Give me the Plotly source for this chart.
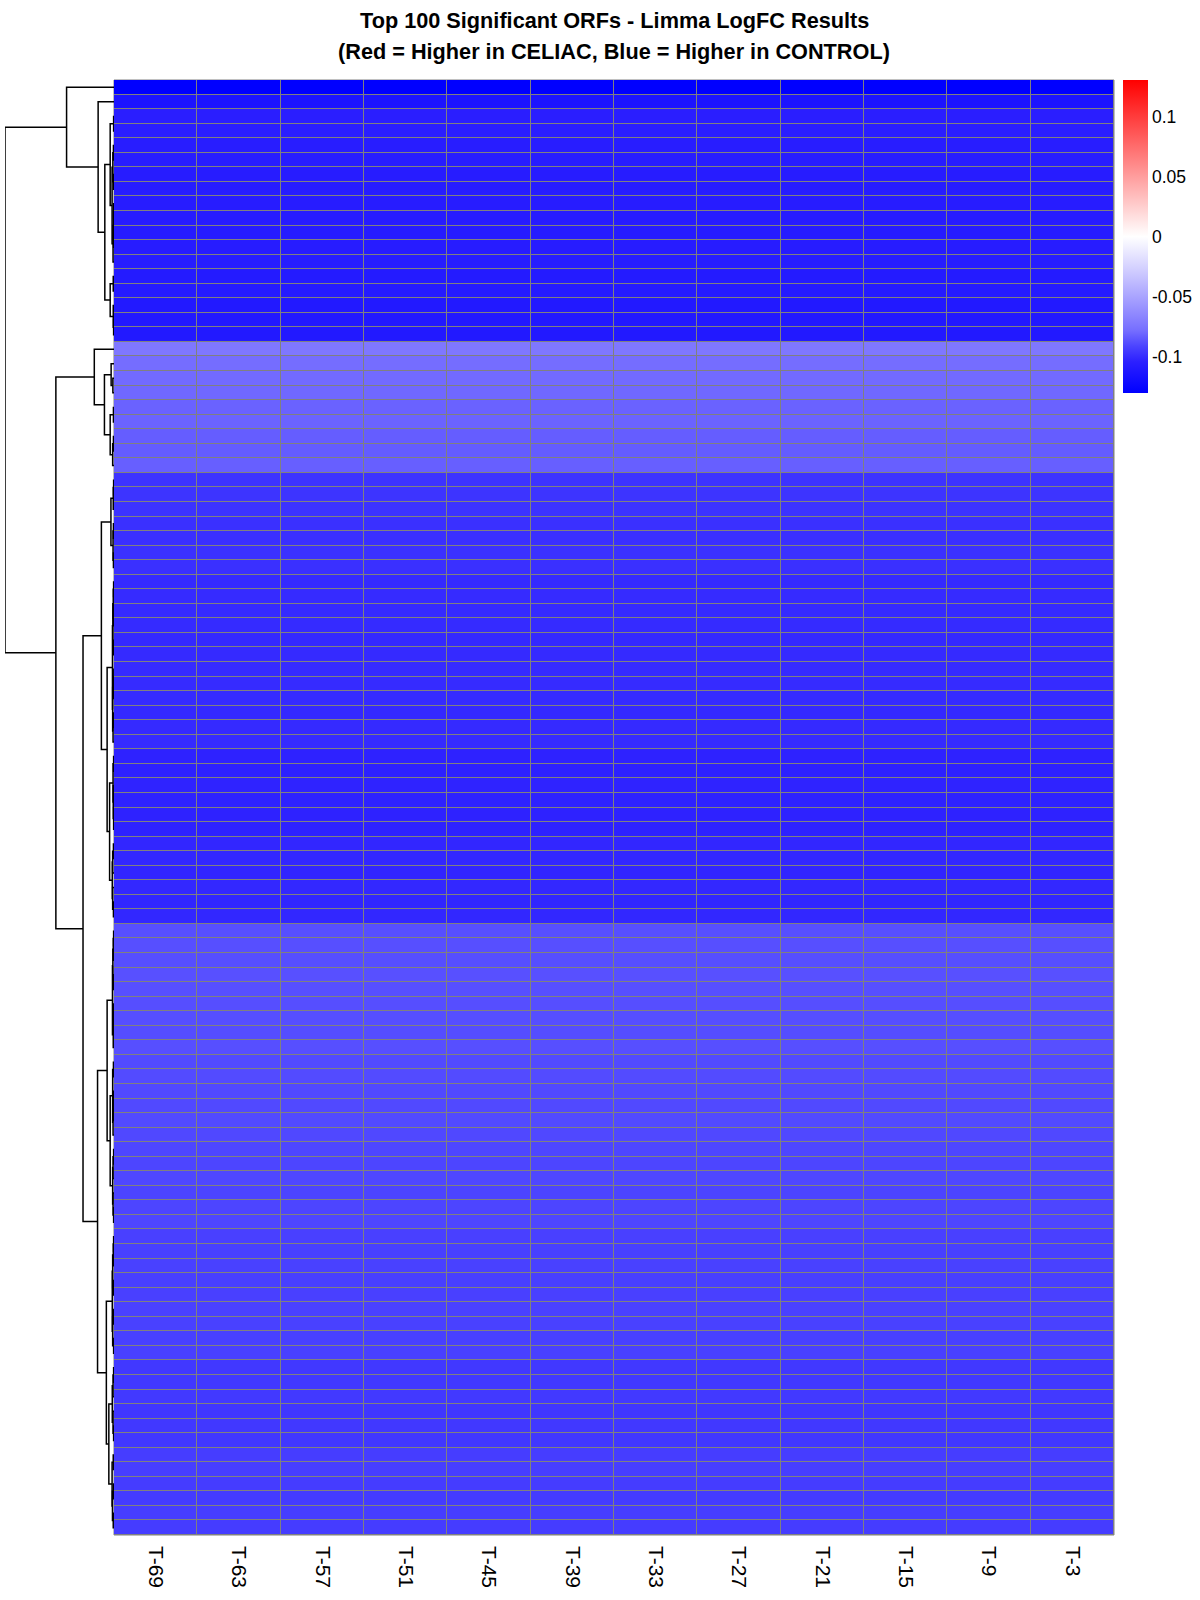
import numpy as np
import plotly.graph_objects as go

# ---------------- data ----------------
time_points = ["T-69", "T-63", "T-57", "T-51", "T-45", "T-39",
               "T-33", "T-27", "T-21", "T-15", "T-9", "T-3"]

# limma logFC per ORF (rows in displayed / clustered order, same value at every time point)
logfc_top = [-0.1304, -0.1139, -0.1058, -0.1056, -0.1066, -0.1069, -0.1072, -0.1070, -0.1075,
             -0.1073, -0.1076, -0.1074, -0.1071, -0.1088, -0.1084, -0.1100, -0.1104, -0.1102]
logfc_light = [-0.0734, -0.0787, -0.0796, -0.0802, -0.0820, -0.0817, -0.0834, -0.0837, -0.0830]
logfc_dark = [-0.0974, -0.0972, -0.0976, -0.0985, -0.0988, -0.0983, -0.0986,
              -0.1006, -0.1004, -0.1008, -0.1005, -0.1010, -0.1006, -0.1003, -0.1002, -0.1005,
              -0.1009, -0.1007, -0.1004,
              -0.1036, -0.1038, -0.1033, -0.1036, -0.1035, -0.1037,
              -0.1020, -0.1017, -0.1024, -0.1015, -0.1022, -0.1019]
logfc_low = [-0.0880, -0.0878, -0.0882, -0.0876, -0.0879, -0.0883, -0.0881, -0.0884, -0.0880,
             -0.0895, -0.0892, -0.0898, -0.0896, -0.0894, -0.0899,
             -0.0908, -0.0910, -0.0905, -0.0912, -0.0909, -0.0907,
             -0.0926, -0.0928, -0.0924, -0.0931, -0.0927, -0.0922, -0.0925, -0.0929, -0.0927,
             -0.0956, -0.0958, -0.0953, -0.0962, -0.0957, -0.0959,
             -0.0939, -0.0935, -0.0942, -0.0945, -0.0937, -0.0941]
logfc = logfc_top + logfc_light + logfc_dark + logfc_low

cbar_tickvals = [-0.1, -0.05, 0, 0.05, 0.1]
cbar_ticktext = ["-0.1", "-0.05", "0", "0.05", "0.1"]

title_line1 = "Top 100 Significant ORFs - Limma LogFC Results"
title_line2 = "(Red = Higher in CELIAC, Blue = Higher in CONTROL)"

# ---------------- matrix ----------------
n_rows = len(logfc)
row_ids = list(range(1, n_rows + 1))
Z = np.repeat(np.array(logfc)[:, None], len(time_points), axis=1)
zlim = float(np.abs(Z).max())

# ---------------- row dendrogram (complete linkage, euclidean, order kept) ----------------
D = np.sqrt(((Z[:, None, :] - Z[None, :, :]) ** 2).sum(-1))
clusters = [dict(m=[i], y=float(i + 1), h=0.0) for i in range(n_rows)]
tx, ty = [], []
while len(clusters) > 1:
    best = None
    for k in range(len(clusters) - 1):
        a, b = clusters[k], clusters[k + 1]
        d = D[np.ix_(a["m"], b["m"])].max()
        if best is None or d < best[0] - 1e-12:
            best = (d, k)
    d, k = best
    a, b = clusters[k], clusters[k + 1]
    tx += [a["h"], d, d, b["h"], None]
    ty += [a["y"], a["y"], b["y"], b["y"], None]
    clusters[k:k + 2] = [dict(m=a["m"] + b["m"], y=(a["y"] + b["y"]) / 2, h=d)]
root_h = clusters[0]["h"]

# ---------------- style ----------------
W, H = 1200, 1600
hm_l, hm_r, hm_t, hm_b = 114, 1114, 80, 1535
tree_l = 5
grid_col = "#808080"
font_fam = "Liberation Sans, Arial, Helvetica, sans-serif"
colorscale = [
    [0.00, "rgb(0,0,255)"],
    [0.10, "rgb(44,32,255)"],
    [0.15, "rgb(76,68,255)"],
    [0.20, "rgb(118,110,255)"],
    [0.30, "rgb(166,160,255)"],
    [0.40, "rgb(212,209,255)"],
    [0.50, "rgb(255,255,255)"],
    [0.60, "rgb(255,204,204)"],
    [0.70, "rgb(255,153,153)"],
    [0.80, "rgb(255,102,102)"],
    [0.90, "rgb(255,51,51)"],
    [1.00, "rgb(255,0,0)"],
]

fig = go.Figure()
fig.add_trace(go.Heatmap(
    z=Z, x=time_points, y=row_ids,
    zmin=-zlim, zmax=zlim,
    colorscale=colorscale,
    xgap=1, ygap=1,
    colorbar=dict(
        thickness=25, thicknessmode="pixels",
        len=313, lenmode="pixels",
        x=1123 / W, xanchor="left", y=1 - hm_t / H, yanchor="top",
        xpad=0, ypad=0, outlinewidth=0,
        ticks="", tickvals=cbar_tickvals, ticktext=cbar_ticktext,
        tickfont=dict(family=font_fam, size=17.5, color="black"),
    ),
))
fig.add_trace(go.Scatter(
    x=tx, y=ty, xaxis="x2", yaxis="y", mode="lines",
    line=dict(color="black", width=1.5), hoverinfo="skip", showlegend=False,
))

fig.update_layout(
    width=W, height=H, margin=dict(l=0, r=0, t=0, b=0),
    paper_bgcolor="white", plot_bgcolor="white",
    font=dict(family=font_fam, color="black"),
    xaxis=dict(domain=[hm_l / W, hm_r / W], anchor="y", type="category",
               tickangle=90, ticks="", showgrid=False, zeroline=False, showline=False,
               tickfont=dict(size=21, color="black"), ticklabelstandoff=10),
    yaxis=dict(domain=[1 - hm_b / H, 1 - hm_t / H], range=[n_rows + 0.5, 0.5],
               showticklabels=False, showgrid=False, zeroline=False, ticks=""),
    xaxis2=dict(domain=[tree_l / W, hm_l / W], anchor="y", range=[root_h, 0],
                visible=False, showgrid=False, zeroline=False),
    shapes=[dict(type="rect", xref="x domain", yref="y domain", x0=0, x1=1, y0=0, y1=1,
                 fillcolor=grid_col, line=dict(color=grid_col, width=1), layer="below")],
    annotations=[
        dict(text="<b>" + title_line1 + "</b>", xref="paper", yref="paper",
             x=(hm_l + hm_r) / 2 / W, y=1 - 20.5 / H, xanchor="center", yanchor="middle",
             showarrow=False, font=dict(size=21.7, color="black")),
        dict(text="<b>" + title_line2 + "</b>", xref="paper", yref="paper",
             x=(hm_l + hm_r) / 2 / W, y=1 - 52 / H, xanchor="center", yanchor="middle",
             showarrow=False, font=dict(size=21.7, color="black")),
    ],
)

fig.write_html("out.html")
